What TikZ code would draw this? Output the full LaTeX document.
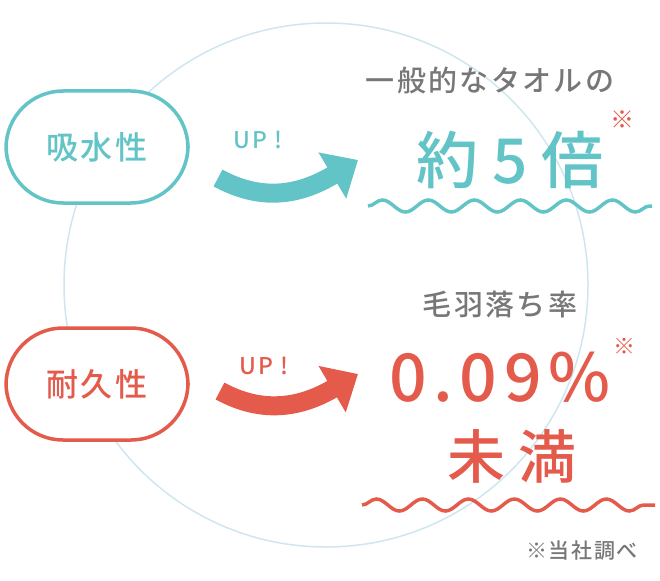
\documentclass[tikz,border=0pt]{standalone}
\usepackage{fontspec}
\newfontfamily\jp[LetterSpace=8]{Noto Sans CJK JP Medium}
\newfontfamily\jpb[LetterSpace=22]{Noto Sans CJK JP Medium}
\newfontfamily\jpc[LetterSpace=10]{Noto Sans CJK JP Medium}
\usetikzlibrary{decorations.pathmorphing,arrows.meta}
\definecolor{teal}{HTML}{62C4C6}
\definecolor{redc}{HTML}{E45B4C}
\definecolor{gr}{HTML}{777777}
\definecolor{lb}{HTML}{CFE6F0}
\begin{document}
\begin{tikzpicture}[x=1pt,y=-1pt,
pill/.style={draw,line width=3.5pt,fill=white,rounded corners=57pt,minimum width=182pt,minimum height=112pt,font=\jp\fontsize{32}{34}\selectfont},
wave/.style={line width=3.5pt,decorate,decoration={snake,segment length=46pt,amplitude=6pt}},
bigarrow/.style={line width=19pt,-{Triangle[length=30pt,width=52pt]}}]
\useasboundingbox (0,0) rectangle (660,580);
\draw[lb,line width=1.5pt] (326,285) circle (262);
\node[pill,draw=teal,text=teal] (p1) at (97,147) {吸水性};
\node[pill,draw=redc,text=redc] (p2) at (97,384) {耐久性};
\node[text=teal,font=\jp\fontsize{23}{24}\selectfont] (u1) at (258,140) {UP !};
\node[text=redc,font=\jp\fontsize{23}{24}\selectfont] (u2) at (264,366) {UP !};
\coordinate (a1s) at (218,178); \coordinate (a1e) at (358,160);
\coordinate (a2s) at (220,391); \coordinate (a2e) at (358,374);
\draw[teal,bigarrow] (a1s) .. controls (262,202) and (300,195) .. (a1e);
\draw[redc,bigarrow] (a2s) .. controls (262,414) and (300,408) .. (a2e);
\node[text=gr,font=\jp\fontsize{29}{30}\selectfont] (t1) at (490,80) {一般的なタオルの};
\node[text=teal,font=\jpb\fontsize{62}{64}\selectfont] (t2) at (510,160) {約5倍};
\node[text=redc,font=\jp\fontsize{24}{24}\selectfont] (s1) at (622,120) {※};
\coordinate (w1s) at (368,206); \coordinate (w1e) at (652,206);
\draw[teal,wave] (w1s) -- (w1e);
\node[text=gr,font=\jp\fontsize{29}{30}\selectfont] (t3) at (500,305) {毛羽落ち率};
\node[text=redc,font=\jpc\fontsize{66}{68}\selectfont] (t4) at (500,377) {0.09\%};
\node[text=redc,font=\jp\fontsize{22}{22}\selectfont] (s2) at (624,346) {※};
\node[text=redc,font=\jpb\fontsize{58}{60}\selectfont] (t5) at (512,456) {未満};
\coordinate (w2s) at (362,505); \coordinate (w2e) at (655,505);
\draw[redc,wave] (w2s) -- (w2e);
\node[text=gr,font=\jp\fontsize{21}{22}\selectfont] (t6) at (582,551) {※当社調べ};
\end{tikzpicture}
\end{document}
